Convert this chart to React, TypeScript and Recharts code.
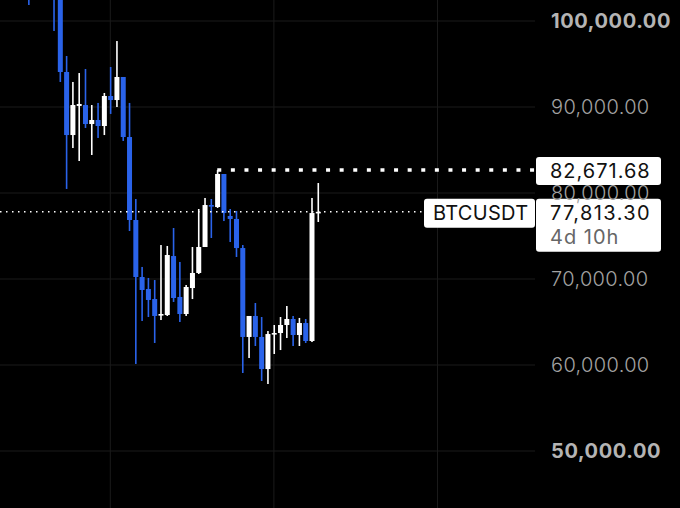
import React from 'react';
import { ComposedChart, Bar, XAxis, YAxis, CartesianGrid, ReferenceLine } from 'recharts';

const slots = [0, 4, 5, 6, 7, 8, 9, 10, 11, 12, 13, 14, 15, 16, 17, 18, 19, 20, 21, 22, 23, 24, 25, 26, 27, 28, 29, 30, 31, 32, 33, 34, 35, 36, 37, 38, 39, 40, 41, 42, 43, 44, 45, 46];
const opens = [103500, 103800, 103000, 94070, 86740, 90120, 90230, 88020, 88490, 87790, 91280, 90810, 93490, 86510, 76860, 70230, 68840, 67670, 65810, 65810, 72670, 67910, 65930, 68950, 70700, 73720, 78600, 78370, 82210, 77330, 76980, 73600, 63260, 65700, 63260, 59530, 63600, 63720, 64650, 65350, 63490, 64880, 62790, 77670];
const closes = [103000, 103000, 94070, 86740, 90230, 90350, 88020, 88490, 87790, 91280, 90810, 93490, 86510, 76860, 70230, 68720, 67560, 65700, 65930, 72790, 67790, 65930, 69070, 70700, 73720, 78600, 78490, 82210, 77670, 76980, 73600, 63260, 65700, 63260, 59530, 63600, 63720, 64650, 65350, 63490, 64880, 62790, 77670, 77813];
const highs = [104000, 104500, 103500, 95930, 92910, 93950, 94420, 90230, 90470, 91630, 94650, 97670, 93490, 90470, 79300, 71400, 70120, 69880, 73950, 73840, 75930, 71980, 69300, 73720, 78140, 79420, 79300, 82670, 82210, 78140, 77910, 73950, 65700, 67210, 65580, 63950, 64650, 65580, 66860, 65700, 65470, 65350, 79420, 81160];
const lows = [101860, 98840, 92910, 80470, 85230, 83720, 87560, 84420, 86400, 86740, 89190, 90000, 86050, 75580, 60120, 65120, 65580, 62560, 65230, 65700, 67330, 65000, 65700, 67670, 70580, 73720, 74770, 78260, 76740, 74300, 72560, 59070, 60810, 62210, 58140, 57790, 61280, 61740, 63140, 62210, 62210, 62560, 62670, 76630];
const priceTicks = [50000, 60000, 70000, 80000, 90000, 100000];
const timeGrid = [13, 39, 65];
const boldTicks = [50000, 100000];

const lastHigh = 82671.68;
const lastPrice = 77813.3;
const symbol = 'BTCUSDT';
const countdown = '4d 10h';

const BLUE = '#2a63ea';
const WHITE = '#ffffff';
const FONT = 'Inter, Roboto, sans-serif';

const candles = slots.map((slot, i) => ({
  slot,
  open: opens[i],
  close: closes[i],
  range: [lows[i], highs[i]],
}));

const Candle = (props: any) => {
  const { x, y, width, height, payload } = props;
  const [low, high] = payload.range;
  const toY = (v: number) => y + ((high - v) / (high - low)) * height;
  const top = toY(Math.max(payload.open, payload.close));
  const bottom = toY(Math.min(payload.open, payload.close));
  const color = payload.close >= payload.open ? WHITE : BLUE;
  const mid = x + width / 2;
  return (
    <g>
      <rect x={mid - 0.8} y={y} width={1.6} height={height} fill={color} />
      <rect x={x} y={top} width={width} height={Math.max(bottom - top, 1.6)} fill={color} />
    </g>
  );
};

const PriceTick = (props: any) => {
  const { y, payload } = props;
  const bold = boldTicks.includes(payload.value);
  return (
    <text
      x={551}
      y={y + 7}
      fill={bold ? '#b4b4b4' : '#a2a2a2'}
      fontSize={20}
      fontWeight={bold ? 700 : 300}
      fontFamily={FONT}
      letterSpacing={bold ? 0.6 : 0.35}
    >
      {payload.value.toLocaleString('en-US', { minimumFractionDigits: 2 })}
    </text>
  );
};

const HighTag = (props: any) => {
  const y = props.viewBox.y + 1;
  return (
    <g>
      <rect x={536} y={y - 14} width={125} height={28} rx={3} fill={WHITE} />
      <text x={550} y={y + 7} fontSize={20} fill="#111" fontFamily={FONT} letterSpacing={1}>
        {lastHigh.toLocaleString('en-US', { minimumFractionDigits: 2 })}
      </text>
    </g>
  );
};

const LastTag = (props: any) => {
  const y = props.viewBox.y + 1;
  return (
    <g>
      <rect x={424} y={y - 14} width={111} height={29} rx={3} fill={WHITE} />
      <text x={433} y={y + 7} fontSize={20} fill="#111" fontFamily={FONT} letterSpacing={0.3}>
        {symbol}
      </text>
      <rect x={536} y={y - 14} width={125} height={53} rx={3} fill={WHITE} />
      <text x={550} y={y + 7} fontSize={20} fill="#111" fontFamily={FONT} letterSpacing={1.4}>
        {lastPrice.toLocaleString('en-US', { minimumFractionDigits: 2 })}
      </text>
      <text x={550} y={y + 31} fontSize={20} fill="#666" fontFamily={FONT} letterSpacing={1}>
        {countdown}
      </text>
    </g>
  );
};

export default function App() {
  return (
    <div style={{ position: 'fixed', left: 0, top: 0, width: 680, height: 508, background: '#000', overflow: 'hidden' }}>
      <ComposedChart width={680} height={508} data={candles} margin={{ top: 0, right: 0, bottom: 0, left: 0 }}>
        <CartesianGrid stroke="#1b1b1b" strokeWidth={1} horizontalValues={priceTicks} verticalValues={timeGrid} />
        <XAxis dataKey="slot" type="number" domain={[-4.53, 80.5]} allowDataOverflow hide />
        <YAxis
          orientation="right"
          width={145}
          domain={[43372, 102442]}
          allowDataOverflow
          ticks={priceTicks}
          interval={0}
          tick={<PriceTick />}
          axisLine={false}
          tickLine={false}
        />
        <Bar dataKey="range" barSize={5} shape={<Candle />} isAnimationActive={false} />
        <ReferenceLine
          segment={[{ x: -4.53, y: lastPrice }, { x: 63, y: lastPrice }]}
          stroke="#fff"
          strokeWidth={1.5}
          strokeDasharray="1.5 4.5"
          label={<LastTag />}
        />
        <ReferenceLine
          segment={[{ x: 30, y: lastHigh }, { x: 80.5, y: lastHigh }]}
          stroke="#fff"
          strokeWidth={3.5}
          strokeDasharray="4 9.6"
          label={<HighTag />}
        />
      </ComposedChart>
    </div>
  );
}
